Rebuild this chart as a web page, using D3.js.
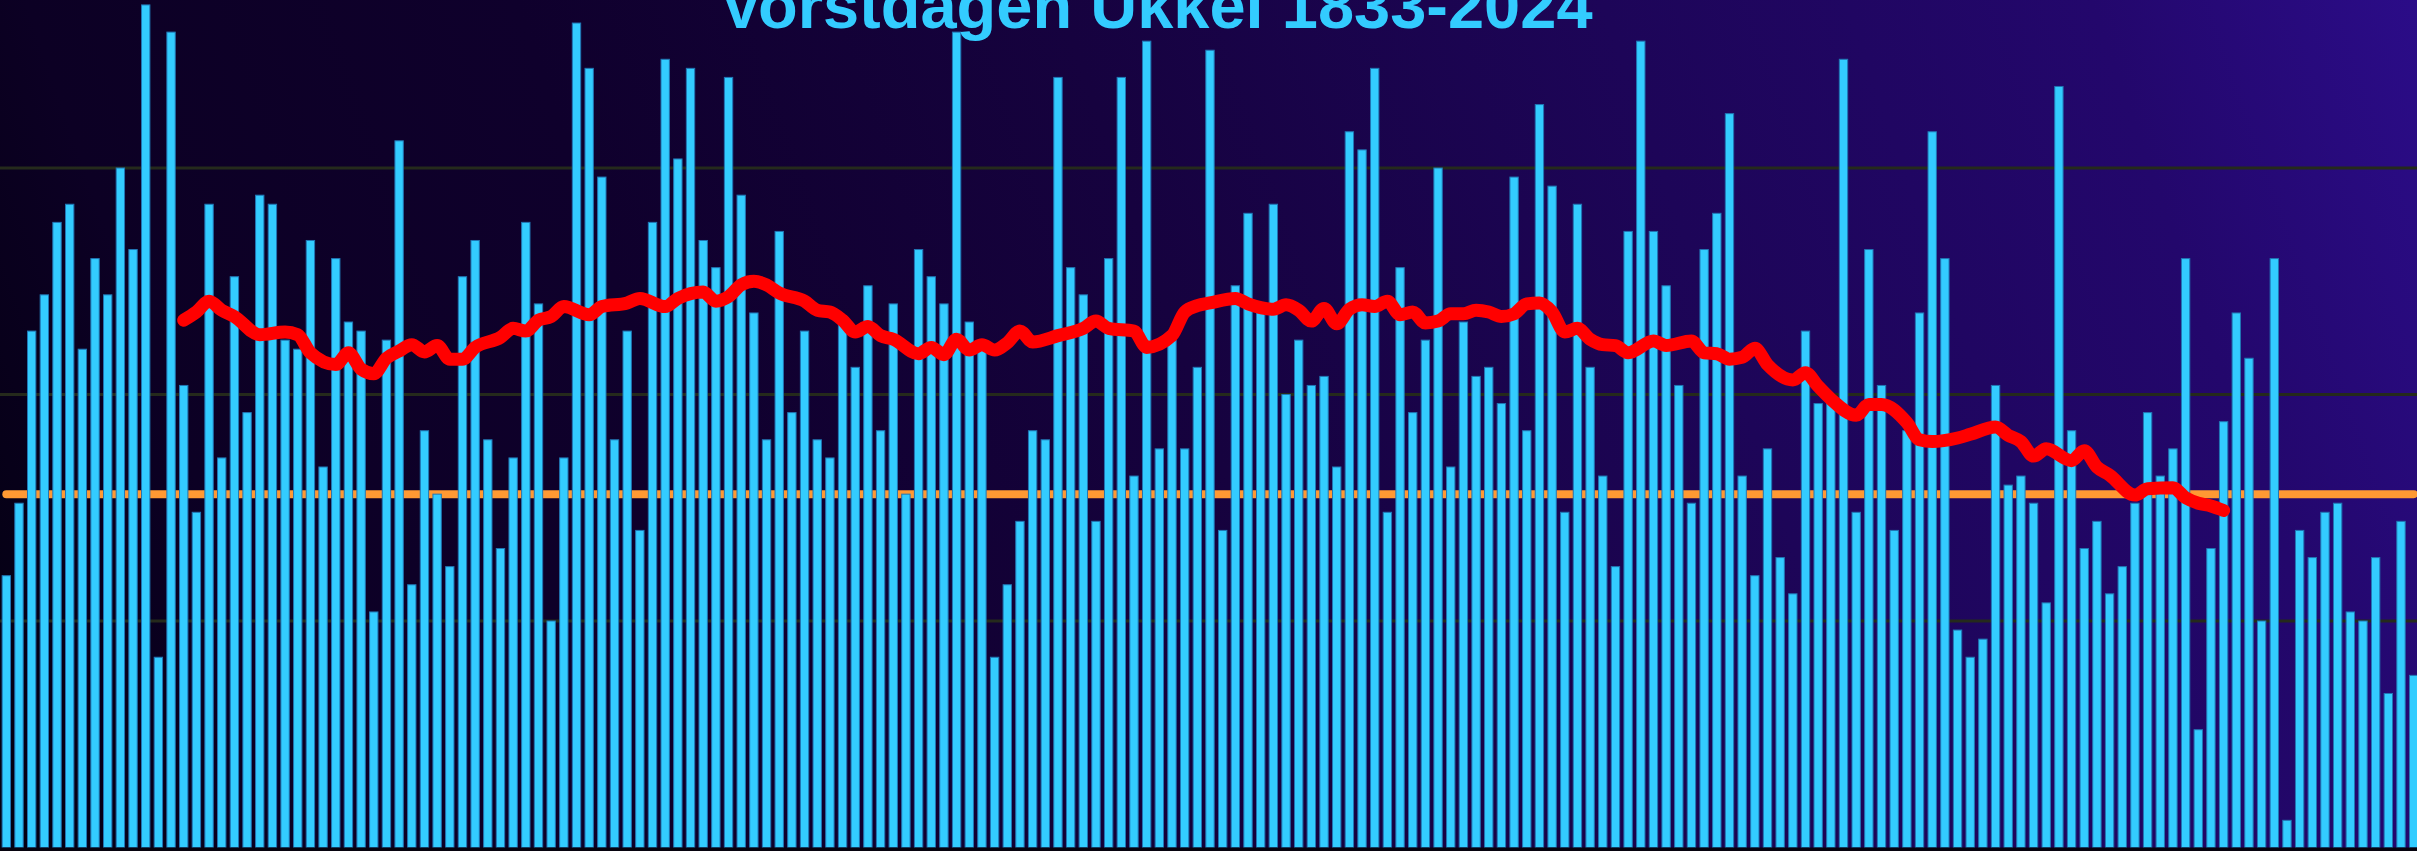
<!DOCTYPE html>
<html>
<head>
<meta charset="utf-8">
<script src="https://cdn.jsdelivr.net/npm/d3@7"></script>
<style>
  body { margin: 0; background: #05000f; overflow: hidden; }
</style>
</head>
<body>
<div id="chart"></div>
<script>
// frost days per year, Uccle
const startYear = 1834;
const frostDays = [
  30, 38, 57, 61, 69, 71, 55, 65, 61, 75, 66, 93, 21, 90, 51, 37, 71, 43, 63, 48, 72, 71, 56, 55, 67, 42, 65, 58, 57, 26, 56, 78,
  29, 46, 39, 31, 63, 67, 45, 33, 43, 69, 60, 25, 43, 91, 86, 74, 45, 57, 35, 69, 87, 76, 86, 67, 64, 85, 72, 59, 45, 68, 48, 57,
  45, 43, 58, 53, 62, 46, 60, 39, 66, 63, 60, 90, 58, 55, 21, 29, 36, 46, 45, 85, 64, 61, 36, 65, 85, 41, 89, 44, 56, 44, 53,
  88, 35, 62, 70, 59, 71, 50, 56, 51, 52, 42, 79, 77, 86, 37, 64, 48, 56, 75, 42, 58, 52, 53, 49, 74, 46, 82, 73, 37, 71, 53, 41,
  31, 68, 89, 68, 62, 51, 38, 66, 70, 81, 41, 30, 44, 32, 28, 57, 49, 49, 87, 37, 66, 51, 35, 46, 59, 79, 65, 24, 21, 23, 51,
  40, 41, 38, 27, 84, 46, 33, 36, 28, 31, 38, 48, 41, 44, 65, 13, 33, 47, 59, 54, 25, 65, 3, 35, 32, 37, 38, 26, 25, 32, 17, 36, 19
];
const years = frostDays.map((d, i) => startYear + i);

// moving average (red line)
const maYears = [
  1848, 1849, 1850, 1851, 1852, 1854, 1856, 1857, 1858, 1860, 1861, 1862, 1863, 1864, 1865, 1866, 1867, 1868, 1869, 1870,
  1871, 1873, 1874, 1875, 1876, 1877, 1878, 1880, 1881, 1883, 1884, 1886, 1887, 1889, 1890, 1891, 1892, 1893, 1894, 1895,
  1897, 1898, 1899, 1900, 1901, 1902, 1903, 1904, 1906, 1907, 1908, 1909, 1910, 1911, 1912, 1913, 1914, 1915, 1917, 1919,
  1920, 1921, 1923, 1924, 1926, 1927, 1928, 1929, 1931, 1932, 1934, 1935, 1936, 1937, 1938, 1939, 1940, 1941, 1942, 1943,
  1944, 1945, 1946, 1947, 1948, 1949, 1950, 1951, 1952, 1953, 1954, 1955, 1956, 1957, 1958, 1959, 1960, 1961, 1962, 1964,
  1965, 1967, 1968, 1969, 1970, 1971, 1972, 1973, 1975, 1976, 1977, 1978, 1980, 1981, 1982, 1984, 1985, 1986, 1988, 1989,
  1991, 1992, 1993, 1994, 1995, 1997, 1998, 1999, 2000, 2002, 2003, 2005, 2006, 2007, 2008, 2009
];
const maValues = [
  58.2, 59.1, 60.3, 59.3, 58.6, 56.6, 56.9, 56.6, 54.6, 53.3, 54.6, 52.8, 52.3, 54.0, 54.8, 55.5, 54.7, 55.4, 53.9, 53.9,
  55.2, 56.3, 57.3, 57.0, 58.2, 58.6, 59.7, 58.8, 59.7, 60.1, 60.6, 59.7, 60.6, 61.3, 60.3, 60.8, 62.1, 62.5, 62.1, 61.2,
  60.3, 59.3, 59.1, 58.2, 56.9, 57.5, 56.5, 56.1, 54.5, 55.2, 54.4, 56.1, 54.9, 55.5, 54.9, 55.7, 57.0, 55.8, 56.5, 57.3,
  58.1, 57.3, 57.0, 55.2, 56.5, 59.1, 59.8, 60.1, 60.6, 60.0, 59.4, 59.9, 59.3, 58.1, 59.5, 57.8, 59.4, 59.9, 59.7, 60.3,
  58.8, 59.1, 57.9, 58.1, 58.9, 58.9, 59.3, 59.1, 58.6, 58.9, 60.0, 60.1, 59.1, 56.9, 57.3, 56.1, 55.5, 55.4, 54.6, 55.9,
  55.4, 55.9, 54.6, 54.5, 53.9, 54.1, 55.1, 53.3, 51.6, 52.4, 50.9, 49.5, 47.7, 48.9, 48.9, 46.9, 45.0, 44.8, 45.2, 45.6,
  46.4, 45.5, 44.8, 43.2, 44.0, 42.7, 43.8, 42.0, 41.1, 38.9, 39.6, 39.7, 38.6, 38.0, 37.7, 37.2
];

// orange reference level and grid values
const referenceLevel = 39;
const gridTicks = [25, 50, 75, 100];
const title = "Vorstdagen Ukkel 1833-2024";

const width = 2417, height = 851;

const svg = d3.select("#chart")
  .append("svg")
    .attr("width", width)
    .attr("height", height);

// background gradient, dark on the left to purple on the right
const defs = svg.append("defs");
const grad = defs.append("linearGradient")
    .attr("id", "bg")
    .attr("gradientUnits", "userSpaceOnUse")
    .attr("x1", 0).attr("y1", height)
    .attr("x2", width).attr("y2", 0);
[[0, "#030010"], [0.12, "#0c0024"], [0.3, "#0f002c"], [0.5, "#16023f"],
 [0.7, "#1d0558"], [0.88, "#23076c"], [1, "#2b0c88"]].forEach(s => {
  grad.append("stop").attr("offset", s[0]).attr("stop-color", s[1]);
});

svg.append("rect")
    .attr("width", width)
    .attr("height", height)
    .attr("fill", "url(#bg)");

// scales
const x = d3.scaleBand()
    .domain(years)
    .range([0, 2420])
    .paddingInner(0.34)
    .paddingOuter(0.17);

const y = d3.scaleLinear()
    .domain([0, 100])
    .range([847.5, 847.5 - 906]);

const xc = yr => x(yr) + x.bandwidth() / 2;

// grid lines
svg.append("g")
  .selectAll("line")
  .data(gridTicks)
  .join("line")
    .attr("x1", 0)
    .attr("x2", width)
    .attr("y1", d => y(d))
    .attr("y2", d => y(d))
    .attr("stroke", "#252a1c")
    .attr("stroke-width", 3);

// orange reference line across all years (sits under the bars)
svg.append("line")
    .attr("x1", xc(years[0]))
    .attr("x2", xc(years[years.length - 1]))
    .attr("y1", y(referenceLevel))
    .attr("y2", y(referenceLevel))
    .attr("stroke", "#ff9933")
    .attr("stroke-width", 8)
    .attr("stroke-linecap", "round");

// bars
svg.append("g")
  .selectAll("rect")
  .data(frostDays)
  .join("rect")
    .attr("x", (d, i) => x(years[i]))
    .attr("y", d => y(d))
    .attr("width", x.bandwidth())
    .attr("height", d => y(0) - y(d))
    .attr("fill", "#33ccff")
    .attr("stroke", "#2176b4")
    .attr("stroke-width", 1);

// baseline
svg.append("line")
    .attr("x1", 0)
    .attr("x2", width)
    .attr("y1", y(0) + 2)
    .attr("y2", y(0) + 2)
    .attr("stroke", "#06030e")
    .attr("stroke-width", 4);

// moving average
const line = d3.line()
    .x((d, i) => xc(maYears[i]))
    .y(d => y(d))
    .curve(d3.curveMonotoneX);

svg.append("path")
    .datum(maValues)
    .attr("d", line)
    .attr("fill", "none")
    .attr("stroke", "#ff0000")
    .attr("stroke-width", 13)
    .attr("stroke-linecap", "round")
    .attr("stroke-linejoin", "round");

// title (cut off at the top like the original)
svg.append("text")
    .attr("x", 1156)
    .attr("y", 28)
    .attr("text-anchor", "middle")
    .attr("font-family", "Liberation Sans, Arial, sans-serif")
    .attr("font-weight", "bold")
    .attr("font-size", 65)
    .attr("fill", "#33ccff")
    .text(title);
</script>
</body>
</html>
